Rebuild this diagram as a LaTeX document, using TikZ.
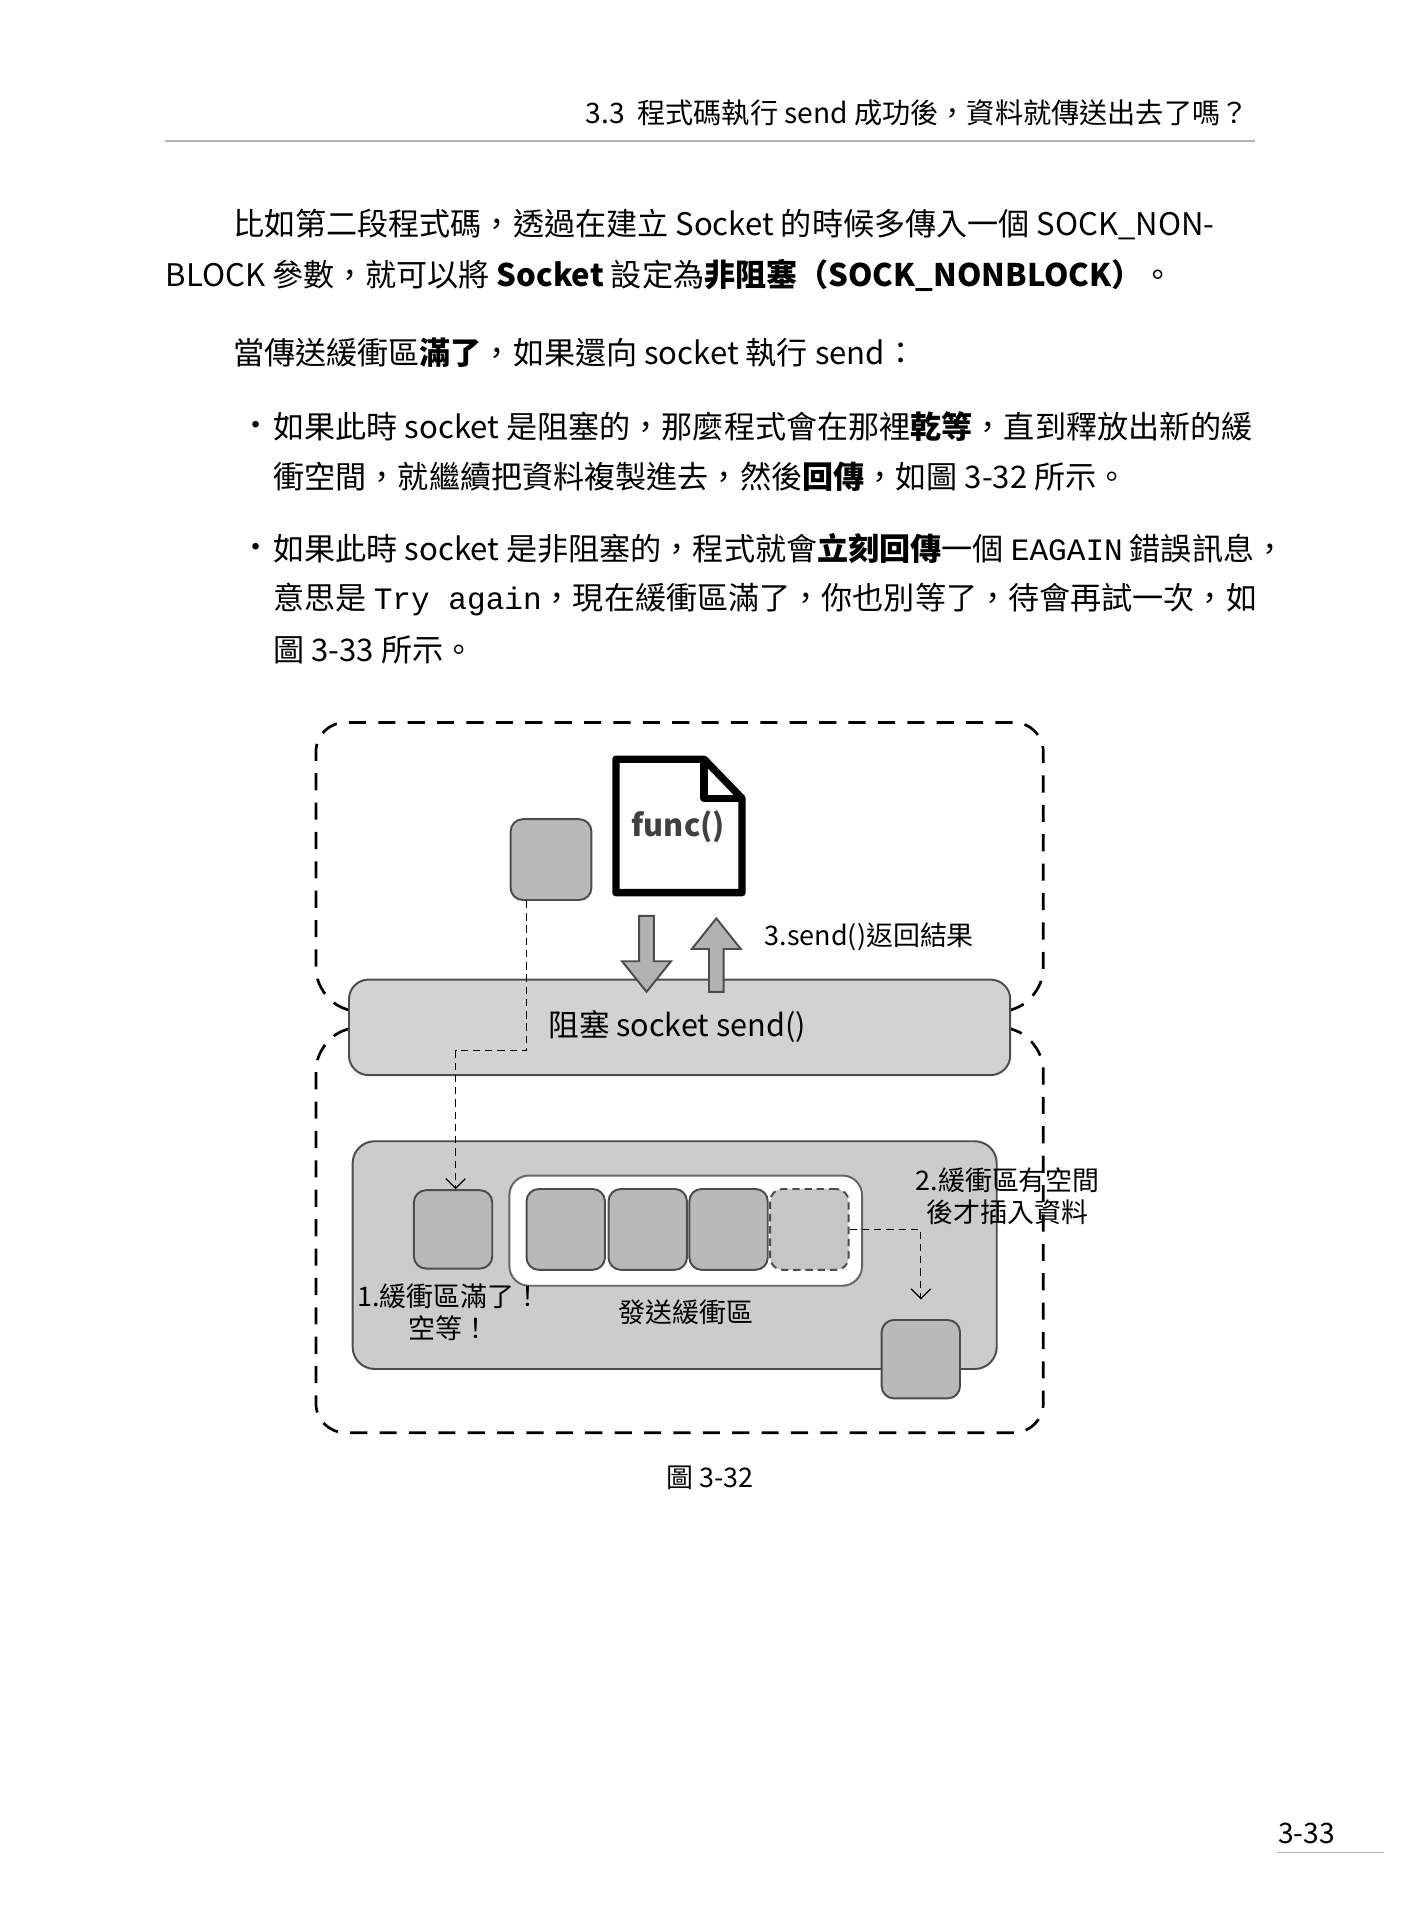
\documentclass[tikz,border=0pt]{standalone}
\usepackage{fontspec}
\setmainfont{Noto Sans CJK TC}
\newfontfamily\mono{Liberation Mono}
\usetikzlibrary{arrows.meta}
\begin{document}
\begin{tikzpicture}[x=0.5pt,y=-0.5pt,
  body/.style={anchor=west,inner sep=0,font=\fontsize{12.7pt}{14pt}\selectfont},
  lab/.style={font=\fontsize{11pt}{13pt}\selectfont,align=center,inner sep=0},
  frame/.style={dash pattern=on 7pt off 5pt,line width=1.1pt},
  thindash/.style={densely dashed,line width=0.5pt},
  box/.style={fill=gray!55,draw=black!70,line width=0.8pt,rounded corners=5pt},
  blk/.style={fill=gray!60,draw=black!70,line width=0.8pt}]
\useasboundingbox (0,0) rectangle (1160,1568);
\fill[white] (0,0) rectangle (1160,1568);
% header
\node[anchor=east,inner sep=0,font=\fontsize{11.5pt}{13pt}\selectfont] (hd) at (1020,92) {3.3\ \ 程式碼執行 send 成功後，資料就傳送出去了嗎？};
\draw[gray!60,line width=0.6pt] (135,115) -- (1025,115);
% text
\node[body] (t1) at (190,183) {比如第二段程式碼，透過在建立 Socket 的時候多傳入一個 SOCK\_NON-};
\node[body] (t2) at (135,225) {BLOCK 參數，就可以將 \textbf{Socket} 設定為\textbf{非阻塞（SOCK\_NONBLOCK）}。};
\node[body] (t3) at (190,288) {當傳送緩衝區\textbf{滿了}，如果還向 socket 執行 send：};
\node[body] (b1) at (196,350) {•};
\node[body] (t4) at (223,348) {如果此時 socket 是阻塞的，那麼程式會在那裡\textbf{乾等}，直到釋放出新的緩};
\node[body] (t5) at (223,389) {衝空間，就繼續把資料複製進去，然後\textbf{回傳}，如圖 3-32 所示。};
\node[body] (b2) at (196,450) {•};
\node[body] (t6) at (223,448) {如果此時 socket 是非阻塞的，程式就會\textbf{立刻回傳}一個 {\mono EAGAIN} 錯誤訊息，};
\node[body] (t7) at (223,490) {意思是 {\mono Try again}，現在緩衝區滿了，你也別等了，待會再試一次，如};
\node[body] (t8) at (223,531) {圖 3-33 所示。};
% dashed frames
\draw[frame,rounded corners=12pt] (285,825) -- (258,815) -- (258,590) -- (852,590) -- (852,815) -- (825,825);
\draw[frame,rounded corners=12pt] (285,840) -- (258,850) -- (258,1170) -- (852,1170) -- (852,850) -- (825,840);
% bar
\node[box,minimum width=270pt,minimum height=39pt,fill=gray!35,rounded corners=8pt] (bar) at (555,839) {};
\node[lab,font=\fontsize{12.5pt}{14pt}\selectfont] (bt) at (553,838) {阻塞 socket send()};
% top square and file
\node[box,minimum width=33pt,minimum height=33pt] (sq0) at (450,702) {};
\draw[line width=3pt,fill=white,line join=round] (503,620) -- (575,620) -- (606,652) -- (606,729) -- (503,729) -- cycle;
\draw[line width=3pt,line join=round] (575,620) -- (575,652) -- (606,652);
\node[lab,font=\fontsize{12.5pt}{14pt}\selectfont\bfseries,text=black!75] (fn) at (554,675) {func()};
% block arrows
\draw[blk] (522,748) -- (534,748) -- (534,785) -- (548,785) -- (528,810) -- (508,785) -- (522,785) -- cycle;
\draw[blk] (579,810) -- (591,810) -- (591,775) -- (605,775) -- (585,750) -- (565,775) -- (579,775) -- cycle;
\node[lab] (l3) at (710,765) {3.send()返回結果};
% bottom box
\node[box,minimum width=263pt,minimum height=93pt,fill=gray!40,rounded corners=9pt] (big) at (551,1025) {};
\node[box,minimum width=32pt,minimum height=32pt] (sq1) at (370,1004) {};
\node[draw=black!60,fill=white,rounded corners=8pt,line width=0.8pt,minimum width=144pt,minimum height=45pt] (buf) at (560,1005) {};
\node[box,minimum width=32pt,minimum height=33pt] (c1) at (462,1004) {};
\node[box,minimum width=32pt,minimum height=33pt] (c2) at (529,1004) {};
\node[box,minimum width=32pt,minimum height=33pt] (c3) at (595,1004) {};
\node[box,minimum width=32pt,minimum height=33pt,fill=gray!45,densely dashed] (c4) at (661,1004) {};
\node[box,minimum width=32pt,minimum height=32pt] (sq2) at (752,1110) {};
\node[lab] (l2) at (823,977) {2.緩衝區有空間\\後才插入資料};
\node[lab] (l1) at (367,1072) {1.緩衝區滿了！\\空等！};
\node[lab] (lb) at (560,1072) {發送緩衝區};
% thin dashed connectors
\coordinate (p1) at (430,858);
\coordinate (p2) at (372,858);
\draw[thindash,-{Straight Barb[length=4pt]}] (sq0.south -| p1) -- (p1) -- (p2) -- (sq1.north -| p2);
\coordinate (p3) at (752,1004);
\draw[thindash,-{Straight Barb[length=4pt]}] (c4.east) -- (p3) -- ([yshift=8pt]sq2.north);
% caption
\node[lab,font=\fontsize{11pt}{13pt}\selectfont] (cap) at (580,1207) {圖 3-32};
\node[lab,font=\fontsize{11.5pt}{13pt}\selectfont] (pg) at (1067,1497) {3-33};
\draw[gray!60,line width=0.6pt] (1043,1513) -- (1130,1513);
\end{tikzpicture}
\end{document}
